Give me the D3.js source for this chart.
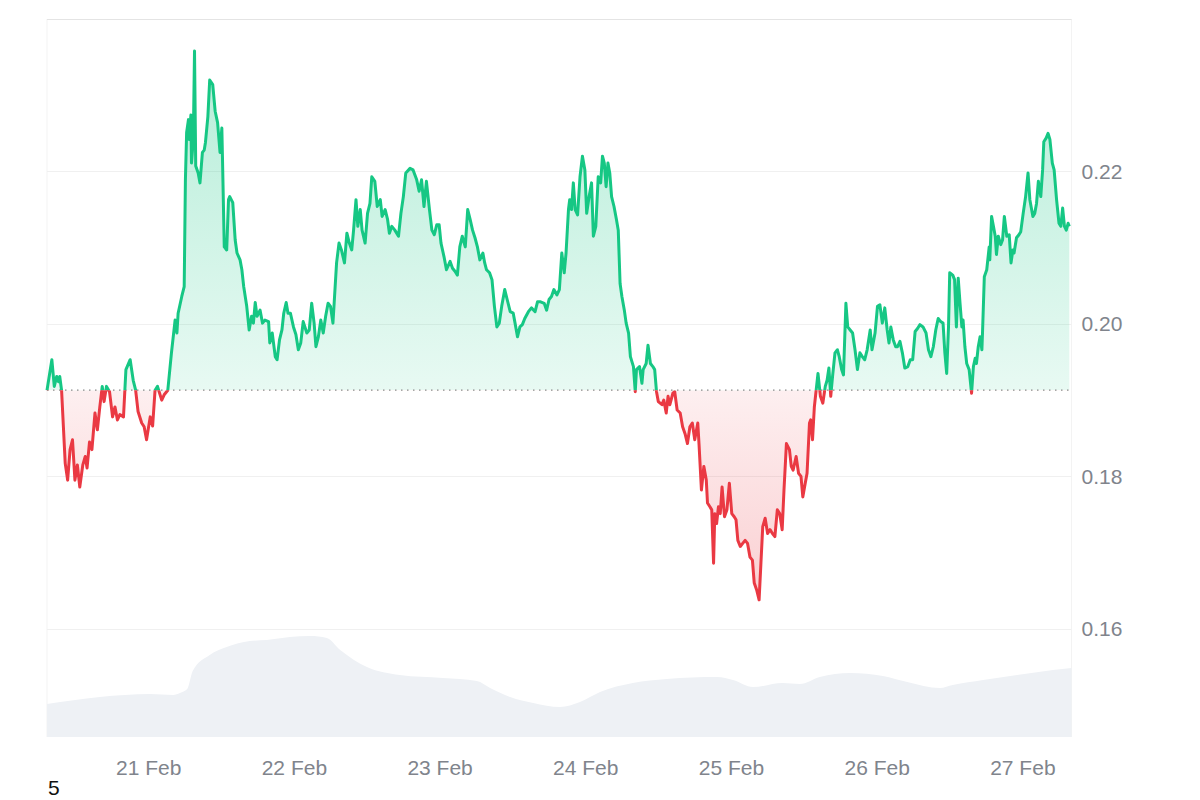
<!DOCTYPE html>
<html><head><meta charset="utf-8">
<script src="https://cdn.jsdelivr.net/npm/d3@7"></script>
<style>body{margin:0;background:#fff;} svg{display:block;}</style>
</head><body><svg id="c" width="1200" height="800"></svg>
<script>
// ---- DATA ----
const startUTC = Date.UTC(2025, 1, 20, 7, 20); // 20 Feb 07:20 UTC
const endHours = 168.76;
const priceTicks = [0.16, 0.18, 0.20, 0.22];
const priceDomain = [0.1458, 0.2400];
const footnote = "5";
// [hours since start, price]
const pricePoints = [
[0,.1913],[0.8,.1953],[1.2,.1918],[1.6,.1931],[1.9,.1924],[2.1,.1931],[2.4,.1913],[3.0,.1817],[3.4,.1795],[3.8,.1835],[4.2,.1848],[4.6,.1795],[5.0,.1815],[5.4,.1786],[5.9,.1815],[6.3,.1826],[6.6,.1811],[7.0,.1845],[7.4,.1835],[7.9,.1883],[8.3,.1861],[8.7,.1891],[9.1,.1918],[9.4,.1898],[9.8,.1918],[10.3,.1911],[10.8,.1878],[11.2,.1891],[11.6,.1874],[12.0,.1881],[12.6,.1878],[13.0,.1940],[13.7,.1953],[14.2,.1926],[14.6,.1913],[15.0,.1885],[15.6,.1870],[16.0,.1865],[16.4,.1848],[17.0,.1878],[17.4,.1866],[17.8,.1913],[18.2,.1918],[18.9,.1900],[19.3,.1907],[19.9,.1913],[20.5,.1962],[21.1,.2005],[21.4,.1988],[21.6,.2014],[22.2,.2036],[22.6,.2049],[22.8,.2189],[23.0,.2251],[23.3,.2268],[23.4,.2242],[23.7,.2274],[23.8,.2211],[24.1,.2242],[24.3,.2358],[24.5,.2207],[24.9,.2198],[25.2,.2185],[25.6,.2225],[25.9,.2228],[26.1,.2238],[26.5,.2272],[26.8,.2320],[27.3,.2314],[27.7,.2279],[28.1,.2264],[28.5,.2225],[28.8,.2257],[28.9,.2220],[29.2,.2101],[29.6,.2097],[29.9,.2163],[30.1,.2167],[30.6,.2159],[31.0,.2110],[31.3,.2093],[31.8,.2084],[32.1,.2071],[32.4,.2049],[32.9,.2023],[33.3,.1992],[33.7,.2010],[34.0,.2001],[34.3,.2028],[34.6,.2010],[35.1,.2018],[35.5,.2001],[35.9,.2005],[36.5,.2003],[36.7,.1975],[37.1,.1988],[37.6,.1957],[37.9,.1953],[38.3,.1979],[38.7,.1992],[39.0,.2014],[39.4,.2028],[39.7,.2014],[40.1,.2014],[40.6,.1996],[41.0,.1986],[41.4,.1966],[41.8,.1975],
[42.2,.2003],[42.8,.1988],[43.2,.1992],[43.6,.2027],[44.0,.2001],[44.3,.1970],[44.7,.1983],[45.1,.2005],[45.5,.1988],[45.9,.2010],[46.3,.2027],[46.7,.2023],[47.1,.2001],[47.3,.2027],[47.7,.2080],[48.1,.2106],[48.5,.2097],[49.0,.2080],[49.4,.2119],[49.8,.2106],[50.2,.2097],[50.5,.2123],[50.9,.2163],[51.2,.2128],[51.6,.2150],[51.9,.2123],[52.4,.2106],[52.8,.2145],[53.2,.2158],[53.5,.2193],[54.0,.2187],[54.4,.2154],[54.9,.2163],[55.2,.2141],[55.7,.2150],[56.1,.2137],[56.4,.2119],[56.8,.2128],[57.3,.2123],[57.9,.2115],[58.3,.2145],[58.7,.2167],[59.1,.2198],[59.8,.2204],[60.3,.2202],[60.9,.2189],[61.3,.2174],[61.7,.2189],[62.1,.2154],[62.5,.2187],[63.0,.2150],[63.4,.2123],[63.8,.2117],[64.2,.2130],[64.6,.2130],[64.9,.2106],[65.4,.2088],[65.8,.2071],[66.4,.2082],[66.8,.2073],[67.2,.2069],[67.6,.2064],[68.0,.2101],[68.4,.2115],[68.9,.2101],[69.3,.2150],[69.7,.2137],[70.1,.2123],[70.5,.2113],[70.9,.2101],[71.3,.2084],[71.8,.2093],[72.1,.2080],[72.4,.2071],[72.9,.2067],[73.3,.2058],[73.7,.2023],[74.1,.1996],[74.5,.2001],[74.9,.2023],[75.4,.2045],[75.8,.2032],[76.3,.2016],[76.8,.2014],[77.1,.2001],[77.5,.1983],[77.9,.1996],[78.3,.1999],[78.7,.2007],[79.3,.2016],[79.8,.2021],[80.4,.2016],[80.8,.2029],[81.3,.2029],[81.9,.2027],[82.3,.2018],[82.7,.2032],[83.1,.2036],[83.5,.2045],[84.0,.2038],[84.4,.2045],
[84.8,.2093],[85.2,.2067],[85.5,.2093],[85.9,.2150],[86.1,.2163],[86.4,.2150],[86.7,.2185],[87.0,.2150],[87.4,.2143],[87.8,.2193],[88.2,.2220],[88.6,.2202],[88.9,.2145],[89.3,.2167],[89.7,.2185],[90.0,.2115],[90.4,.2128],[90.8,.2193],[91.2,.2185],[91.5,.2220],[91.8,.2211],[92.1,.2180],[92.4,.2211],[92.7,.2198],[93.0,.2167],[93.4,.2154],[93.8,.2137],[94.1,.2123],[94.4,.2053],[94.7,.2036],[95.1,.2018],[95.4,.2001],[95.8,.1988],[96.1,.1957],[96.6,.1944],[96.9,.1911],[97.1,.1940],[97.6,.1944],[98.0,.1922],[98.2,.1940],[98.7,.1948],[99.0,.1972],[99.4,.1948],[99.8,.1944],[100.1,.1940],[100.4,.1911],[100.7,.1898],[101.3,.1894],[101.6,.1900],[102.0,.1883],[102.3,.1905],[102.6,.1894],[103.1,.1909],[103.4,.1911],[103.8,.1887],[104.3,.1883],[104.7,.1865],[105.1,.1856],[105.5,.1843],[105.9,.1865],[106.3,.1870],[106.7,.1848],[107.2,.1870],[107.4,.1843],[107.8,.1782],[108.2,.1813],[108.6,.1795],[108.8,.1765],[109.2,.1760],[109.5,.1756],[109.8,.1686],[110.0,.1751],[110.3,.1738],[110.6,.1760],[110.9,.1751],[111.2,.1786],[111.6,.1747],[112.0,.1756],[112.4,.1791],[112.8,.1751],[113.2,.1747],[113.5,.1743],[113.8,.1716],[114.2,.1708],[114.6,.1712],[115.0,.1716],[115.4,.1712],[115.8,.1694],[116.2,.1690],[116.5,.1660],[116.9,.1651],[117.3,.1638],[117.6,.1686],[117.9,.1734],[118.3,.1745],[118.7,.1725],[119.1,.1730],[119.5,.1725],[119.9,.1721],[120.3,.1756],[120.7,.1751],[121.1,.1730],[121.4,.1782],[121.8,.1843],[122.3,.1835],[122.6,.1813],[122.9,.1808],[123.4,.1826],[123.8,.1804],[124.2,.1800],[124.5,.1773],[124.9,.1791],[125.2,.1804],[125.6,.1870],[125.8,.1874],[126.1,.1848],[126.4,.1891],[126.7,.1913],[127.0,.1935],[127.4,.1905],[127.8,.1896],[128.2,.1918],
[128.5,.1926],[128.8,.1942],[129.1,.1905],[129.4,.1931],[129.8,.1962],[130.2,.1966],[130.5,.1957],[130.9,.1940],[131.2,.1933],[131.6,.2027],[131.9,.1996],[132.3,.1992],[132.7,.1988],[133.1,.1966],[133.5,.1940],[133.9,.1962],[134.3,.1957],[134.7,.1953],[135.1,.1966],[135.6,.1992],[135.9,.1966],[136.4,.1988],[136.8,.2023],[137.2,.2025],[137.6,.2001],[138.0,.2021],[138.4,.1992],[138.7,.1975],[139.0,.1996],[139.4,.1979],[139.8,.1970],[140.1,.1970],[140.5,.1977],[140.9,.1962],[141.3,.1942],[141.8,.1944],[142.2,.1953],[142.6,.1953],[143.0,.1990],[143.4,.1994],[143.8,.1999],[144.3,.1996],[144.8,.1988],[145.2,.1966],[145.6,.1957],[146.0,.1970],[146.4,.1992],[146.8,.2007],[147.2,.2003],[147.6,.2001],[147.9,.1962],[148.2,.1935],[148.5,.1996],[148.7,.2067],[149.2,.2064],[149.5,.2058],[149.8,.1996],[150.1,.2060],[150.4,.2027],[150.7,.1996],[150.9,.2005],[151.2,.1970],[151.5,.1948],[151.9,.1940],[152.3,.1909],[152.6,.1944],[152.9,.1955],[153.1,.1948],[153.4,.1970],[153.7,.1983],[154.0,.1966],[154.1,.1988],[154.4,.2062],[154.8,.2071],[155.2,.2101],[155.3,.2084],[155.6,.2141],[155.9,.2128],[156.2,.2115],[156.4,.2091],[156.7,.2115],[157.1,.2104],[157.4,.2110],[157.7,.2141],[158.1,.2115],[158.5,.2117],[158.8,.2080],[159.1,.2097],[159.3,.2093],[159.7,.2113],[160.1,.2117],[160.4,.2121],[160.8,.2145],[161.2,.2167],[161.6,.2198],[161.9,.2163],[162.4,.2141],[162.7,.2145],[163.0,.2158],[163.3,.2187],[163.7,.2167],[164.0,.2202],[164.2,.2239],[164.6,.2244],[164.9,.2250],[165.2,.2242],[165.6,.2211],[165.9,.2202],[166.3,.2163],[166.7,.2132],[167.0,.2128],[167.3,.2152],[167.6,.2128],[167.9,.2123],[168.2,.2132],[168.4,.2128]
];
// [hours since start, volume (M)]
const volumePoints = [
[0,33],[8.7,40],[17.0,43],[20.8,42],[21.9,44],[23.1,48],[24.0,66],[26.8,82],[29.6,90],[33.4,96],[36.2,97],[40.0,100],[43.3,101],[46.1,99],[48.3,87],[52.7,70],[58.1,62],[65.2,59],[70.8,56],[73.0,49],[76.3,40],[80.1,34],[84.5,30],[87.8,35],[91.1,45],[96.5,54],[102.1,58],[110.4,60],[113.0,57],[116.3,50],[121.2,54],[124.0,53],[127.3,60],[132.3,64],[137.7,61],[141.7,55],[147.1,49],[149.2,52],[154.2,57],[159.8,62],[165.7,67],[168.76,69]
];

// ---- LAYOUT ----
const L = 47, R = 1071.5, T = 19, B = 737, VOLH = 101;
const GREEN = "#16c784", RED = "#ea3943";
const FONT = "'Liberation Sans', Arial, sans-serif";

const toDate = h => new Date(startUTC + h * 3600e3);
const x = d3.scaleUtc().domain([toDate(0), toDate(endHours)]).range([L, R]);
const y = d3.scaleLinear().domain(priceDomain).range([B, T]);
const yVol = d3.scaleLinear().domain([0, d3.max(volumePoints, d => d[1])]).range([B, B - VOLH]);
const base = pricePoints[0][1];
const yb = y(base);

const svg = d3.select("#c");
const defs = svg.append("defs");

const gG = defs.append("linearGradient").attr("id", "gGreen").attr("gradientUnits", "userSpaceOnUse")
  .attr("x1", 0).attr("x2", 0).attr("y1", y(d3.max(pricePoints, d => d[1]))).attr("y2", yb);
gG.append("stop").attr("offset", 0).attr("stop-color", GREEN).attr("stop-opacity", 0.32);
gG.append("stop").attr("offset", 1).attr("stop-color", GREEN).attr("stop-opacity", 0.10);
const gR = defs.append("linearGradient").attr("id", "gRed").attr("gradientUnits", "userSpaceOnUse")
  .attr("x1", 0).attr("x2", 0).attr("y1", yb).attr("y2", y(d3.min(pricePoints, d => d[1])));
gR.append("stop").attr("offset", 0).attr("stop-color", RED).attr("stop-opacity", 0.08);
gR.append("stop").attr("offset", 1).attr("stop-color", RED).attr("stop-opacity", 0.24);

defs.append("clipPath").attr("id", "above").append("rect")
  .attr("x", 0).attr("y", 0).attr("width", 1200).attr("height", yb);
defs.append("clipPath").attr("id", "below").append("rect")
  .attr("x", 0).attr("y", yb).attr("width", 1200).attr("height", 800 - yb);

// frame
svg.append("line").attr("x1", L).attr("x2", L).attr("y1", T).attr("y2", B).attr("stroke", "#f3f3f3");
svg.append("line").attr("x1", R).attr("x2", R).attr("y1", T).attr("y2", B).attr("stroke", "#f3f3f3");
svg.append("line").attr("x1", L).attr("x2", R).attr("y1", T + 0.5).attr("y2", T + 0.5).attr("stroke", "#e4e4e4");

// gridlines
svg.append("g").selectAll("line").data(priceTicks).join("line")
  .attr("x1", L).attr("x2", R)
  .attr("y1", d => Math.round(y(d)) + 0.5).attr("y2", d => Math.round(y(d)) + 0.5)
  .attr("stroke", "#f0f0f0");

// volume
const volArea = d3.area().curve(d3.curveMonotoneX)
  .x(d => x(toDate(d[0]))).y0(B).y1(d => yVol(d[1]));
svg.append("path").datum(volumePoints).attr("d", volArea).attr("fill", "#eef1f5");

// price fills
const px = d => x(toDate(d[0]));
const area = d3.area().x(px).y0(yb).y1(d => y(d[1]));
const line = d3.line().x(px).y(d => y(d[1]));
svg.append("path").datum(pricePoints).attr("d", area).attr("fill", "url(#gGreen)").attr("clip-path", "url(#above)");
svg.append("path").datum(pricePoints).attr("d", area).attr("fill", "url(#gRed)").attr("clip-path", "url(#below)");

// baseline
svg.append("line").attr("x1", L).attr("x2", R).attr("y1", yb).attr("y2", yb)
  .attr("stroke", "#8a8a8a").attr("stroke-width", 1.3).attr("stroke-dasharray", "1.5 4.5");

// price line
svg.append("path").datum(pricePoints).attr("d", line).attr("fill", "none")
  .attr("stroke", GREEN).attr("stroke-width", 3).attr("stroke-linejoin", "round").attr("clip-path", "url(#above)");
svg.append("path").datum(pricePoints).attr("d", line).attr("fill", "none")
  .attr("stroke", RED).attr("stroke-width", 3).attr("stroke-linejoin", "round").attr("clip-path", "url(#below)");

// axes
const yAxis = d3.axisRight(y).tickValues(priceTicks).tickFormat(d3.format(".2f")).tickSize(0).tickPadding(10);
const ya = svg.append("g").attr("transform", `translate(${R},0)`).call(yAxis);
const xAxis = d3.axisBottom(x).ticks(d3.utcDay.every(1)).tickFormat(d3.utcFormat("%-d %b")).tickSize(0).tickPadding(23);
const xa = svg.append("g").attr("transform", `translate(0,${B})`).call(xAxis);
[ya, xa].forEach(g => {
  g.select(".domain").remove();
  g.selectAll("text").attr("fill", "#80848c").style("font-family", FONT).style("font-size", "21px");
});

svg.append("text").attr("x", 48).attr("y", 795).text(footnote)
  .style("font-family", FONT).style("font-size", "21px").attr("fill", "#111");
</script></body></html>
